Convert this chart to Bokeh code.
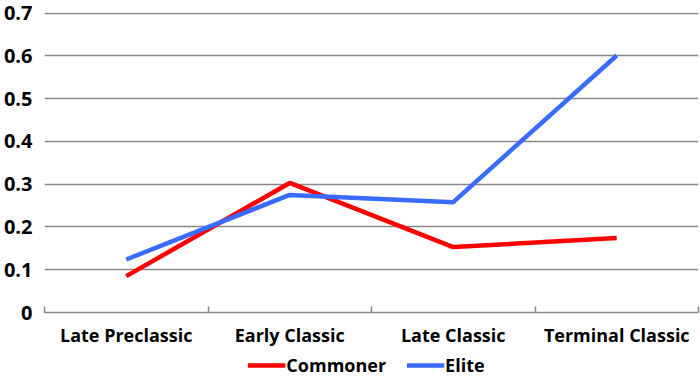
from bokeh.plotting import figure
from bokeh.models import FixedTicker, Range1d, Legend, LegendItem
from bokeh.layouts import column
from bokeh.embed import file_html
from bokeh.resources import INLINE

categories = ["Late Preclassic", "Early Classic", "Late Classic", "Terminal Classic"]
commoner = [0.085, 0.303, 0.153, 0.174]
elite = [0.124, 0.275, 0.258, 0.601]
y_ticks = [0, 0.1, 0.2, 0.3, 0.4, 0.5, 0.6, 0.7]
y_labels = ["0", "0.1", "0.2", "0.3", "0.4", "0.5", "0.6", "0.7"]

FONT = "Open Sans"
RED = "#FF0000"
BLUE = "#3A6BFF"
xs = [i + 0.5 for i in range(len(categories))]

p = figure(frame_width=654, frame_height=300, output_backend="svg", toolbar_location=None,
           x_range=Range1d(0, len(categories)), y_range=Range1d(0, 0.7015),
           min_border_left=0, min_border_right=2, min_border_top=12, min_border_bottom=0)
p.outline_line_color = None
p.background_fill_color = "white"

p.line(xs, commoner, line_color=RED, line_width=4.5)
p.line(xs, elite, line_color=BLUE, line_width=4.5)

# x axis
xa = p.xaxis[0]
xa.ticker = FixedTicker(ticks=xs, minor_ticks=list(range(len(categories) + 1)))
xa.major_label_overrides = {x: c for x, c in zip(xs, categories)}
xa.major_tick_line_color = None
xa.minor_tick_in = 6
xa.minor_tick_out = 0
xa.minor_tick_line_color = "#888888"
xa.minor_tick_line_width = 1.5
xa.axis_line_color = "#888888"
xa.axis_line_width = 1.5
xa.major_label_text_font = FONT
xa.major_label_text_font_style = "bold"
xa.major_label_text_font_size = "18px"
xa.major_label_text_color = "black"
xa.major_label_standoff = 4

# y axis
ya = p.yaxis[0]
ya.ticker = FixedTicker(ticks=y_ticks)
ya.major_label_overrides = {t: l for t, l in zip(y_ticks, y_labels)}
ya.axis_line_color = None
ya.major_tick_line_color = None
ya.minor_tick_line_color = None
ya.major_label_text_font = FONT
ya.major_label_text_font_style = "bold"
ya.major_label_text_font_size = "20px"
ya.major_label_text_color = "black"
ya.major_label_standoff = 6

p.xgrid.grid_line_color = None
p.ygrid.ticker = FixedTicker(ticks=y_ticks[1:])
p.ygrid.grid_line_color = "#888888"
p.ygrid.grid_line_width = 1.5

# legend strip below the chart (series drawn out of view, only the legend shows)
leg = figure(width=690, height=32, output_backend="svg", toolbar_location=None,
             x_range=Range1d(0, len(categories)), y_range=Range1d(5, 6),
             x_axis_type=None, y_axis_type=None,
             min_border_left=0, min_border_right=0, min_border_top=0, min_border_bottom=0)
leg.outline_line_color = None
r1 = leg.line(xs, commoner, line_color=RED, line_width=4.5)
r2 = leg.line(xs, elite, line_color=BLUE, line_width=4.5)

legend = Legend(items=[LegendItem(label="Commoner", renderers=[r1]),
                       LegendItem(label="Elite", renderers=[r2])],
                orientation="horizontal", location="center")
legend.label_text_font = FONT
legend.label_text_font_style = "bold"
legend.label_text_font_size = "18px"
legend.label_text_color = "black"
legend.label_standoff = 1
legend.glyph_width = 38
legend.glyph_height = 20
legend.label_height = 20
legend.spacing = 20
legend.border_line_color = None
legend.background_fill_alpha = 0
legend.padding = 0
legend.margin = 0
leg.add_layout(legend, "center")

layout = column(p, leg, spacing=0)
open("out.html", "w").write(file_html(layout, INLINE))
